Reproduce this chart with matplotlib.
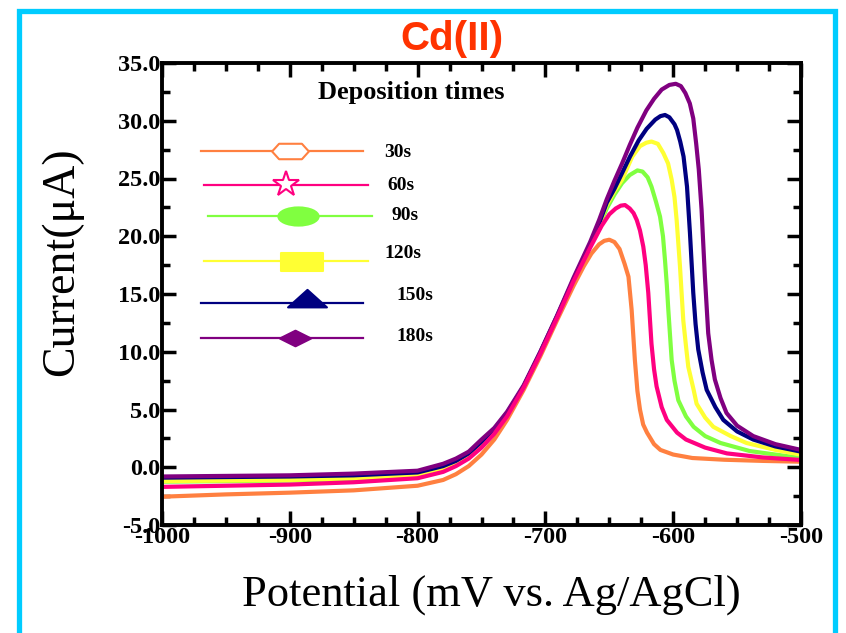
import matplotlib
matplotlib.use("Agg")
import matplotlib.pyplot as plt
import numpy as np
from matplotlib.path import Path
from matplotlib.patches import Rectangle
from matplotlib.ticker import MultipleLocator, FormatStrFormatter

# ---------------- data ----------------
x_30 = [-1000, -950, -900, -850, -800, -780, -770, -760, -750, -740, -730, -717, -704, -691, -678,
        -670, -664, -658, -654, -650, -646, -642, -638, -635, -632.5, -630, -628, -626, -623.5,
        -620.5, -615, -610, -600, -585, -560, -530, -500]
y_30 = [-2.55, -2.35, -2.2, -2.0, -1.6, -1.1, -0.6, 0.1, 1.1, 2.4, 4.1, 6.7, 9.6, 12.7, 15.7,
        17.4, 18.5, 19.3, 19.6, 19.7, 19.5, 18.9, 17.6, 16.5, 13.6, 9.3, 6.6, 5.0, 3.7,
        3.0, 2.0, 1.5, 1.1, 0.8, 0.65, 0.55, 0.48]

x_60 = [-1000, -950, -900, -850, -800, -780, -770, -760, -750, -740, -730, -717, -704, -691, -678,
        -665, -656, -650, -645, -641, -637.7, -634, -631, -628.5, -626, -623.4, -621.5, -619.5,
        -617, -615, -613, -609, -605, -597, -590, -575, -558, -530, -500]
y_60 = [-1.7, -1.6, -1.5, -1.3, -0.95, -0.4, 0.1, 0.75, 1.7, 2.9, 4.4, 6.9, 9.8, 12.9, 16.1,
        19.0, 20.9, 21.9, 22.4, 22.65, 22.7, 22.4, 22.0, 21.4, 20.5, 19.1, 17.5, 15.1,
        10.7, 8.5, 7.0, 5.2, 4.1, 3.0, 2.4, 1.7, 1.2, 0.85, 0.63]

x_90 = [-1000, -950, -900, -850, -800, -780, -770, -760, -750, -740, -730, -717, -704, -691, -678,
        -665, -658, -652, -646, -640, -634, -628, -624, -620, -617, -613.5, -610.3, -608, -606.4,
        -605, -603.8, -601.2, -599, -596, -590, -584, -575, -563, -540, -500]
y_90 = [-1.25, -1.2, -1.15, -1.0, -0.75, -0.2, 0.3, 0.95, 1.9, 3.05, 4.5, 7.0, 9.9, 13.0, 16.2,
        19.2, 20.9, 22.4, 23.6, 24.6, 25.3, 25.7, 25.6, 25.1, 24.3, 23.0, 21.7, 20.0, 17.9,
        15.8, 13.6, 9.3, 7.5, 5.8, 4.4, 3.5, 2.7, 2.1, 1.4, 0.8]

x_120 = [-1000, -950, -900, -850, -800, -780, -770, -760, -750, -740, -730, -717, -704, -691, -678,
         -665, -658, -652, -646, -640, -632, -626, -621, -617, -612, -607.7, -604, -601.2, -599,
         -597.3, -594.7, -592.1, -590, -588.2, -584, -581.7, -575, -568.6, -555, -542.6, -520, -500]
y_120 = [-1.2, -1.15, -1.1, -0.95, -0.72, -0.15, 0.35, 1.0, 1.95, 3.1, 4.55, 7.0, 9.9, 13.0, 16.2,
         19.2, 21.0, 22.7, 23.9, 24.9, 26.9, 27.8, 28.1, 28.2, 28.0, 27.2, 26.3, 24.9, 23.4,
         21.4, 17.4, 12.7, 10.5, 8.7, 6.7, 5.5, 4.3, 3.5, 2.7, 2.1, 1.5, 1.1]

x_150 = [-1000, -950, -900, -850, -800, -780, -770, -760, -750, -740, -730, -717, -704, -691, -678,
         -665, -658, -652, -646, -641.6, -633.8, -627, -620.8, -614, -610, -606.4, -603, -599,
         -597, -594.5, -591.9, -589.2, -586.9, -584.3, -582.5, -580.4, -577, -573.8, -567, -560.8,
         -550, -537.4, -520, -500]
y_150 = [-0.9, -0.85, -0.8, -0.7, -0.45, 0.1, 0.55, 1.2, 2.2, 3.3, 4.7, 7.0, 9.95, 13.05, 16.25,
         19.3, 21.1, 22.9, 24.1, 25.1, 26.9, 28.3, 29.3, 30.1, 30.4, 30.5, 30.3, 29.7,
         29.2, 28.2, 26.9, 24.3, 20.3, 15.1, 12.4, 10.2, 8.2, 6.7, 5.2, 4.1,
         3.1, 2.4, 1.8, 1.35]

x_180 = [-1000, -950, -900, -850, -800, -780, -770, -760, -750, -740, -730, -717, -704, -691, -678,
         -665, -658, -652, -646, -640, -634, -628, -621, -615, -609, -603, -598, -594, -590.5,
         -587, -584.3, -582, -580, -577.8, -575.2, -572.6, -570, -567.4, -563, -558.3, -550,
         -537.4, -520, -500]
y_180 = [-0.8, -0.75, -0.7, -0.55, -0.3, 0.3, 0.75, 1.35, 2.4, 3.4, 4.8, 7.1, 10.0, 13.1, 16.4,
         19.5, 21.4, 23.2, 24.8, 26.3, 27.9, 29.4, 30.9, 31.9, 32.7, 33.1, 33.2, 33.0, 32.4,
         31.5, 30.2, 28.0, 25.8, 22.3, 16.5, 11.6, 9.3, 7.6, 6.0, 4.7, 3.6,
         2.7, 2.0, 1.5]

labels = ["30s", "60s", "90s", "120s", "150s", "180s"]
colors = ["#FF8040", "#FF0080", "#80FF40", "#FFFF33", "#000080", "#800080"]

x_ticks = [-1000, -900, -800, -700, -600, -500]
y_ticks = [-5.0, 0.0, 5.0, 10.0, 15.0, 20.0, 25.0, 30.0, 35.0]

series = {"30s": (x_30, y_30), "60s": (x_60, y_60), "90s": (x_90, y_90),
          "120s": (x_120, y_120), "150s": (x_150, y_150), "180s": (x_180, y_180)}

# ---------------- figure ----------------
W, H = 846, 633
fig = plt.figure(figsize=(W / 100, H / 100), dpi=100)
ax = fig.add_axes([162 / W, 1 - 525 / H, (801 - 162) / W, (525 - 63) / H])

serif = "Liberation Serif"
cmap = dict(zip(labels, colors))
draw_order = ["30s", "90s", "120s", "150s", "180s", "60s"]
for lab in draw_order:
    xs, ys = series[lab]
    ax.plot(xs, ys, color=cmap[lab], lw=3.0, solid_capstyle="round", solid_joinstyle="round")

ax.set_xlim(-1000, -500)
ax.set_ylim(-5, 35)
ax.set_xticks(x_ticks)
ax.set_yticks(y_ticks)
ax.xaxis.set_minor_locator(MultipleLocator(25))
ax.yaxis.set_minor_locator(MultipleLocator(2.5))
ax.yaxis.set_major_formatter(FormatStrFormatter("%.1f"))
ax.xaxis.set_major_formatter(FormatStrFormatter("%d"))
ax.tick_params(which="both", direction="in", top=True, right=True, width=2.5, pad=1.5)
ax.tick_params(which="major", length=10)
ax.tick_params(which="minor", length=6)
for lbl in ax.get_xticklabels() + ax.get_yticklabels():
    lbl.set_fontfamily(serif)
    lbl.set_fontweight("bold")
    lbl.set_fontsize(17.5)
for sp in ax.spines.values():
    sp.set_linewidth(2.8)

# ---------------- custom legend ----------------
def tx(px):
    return (px - 162) / 639

def ty(py):
    return (525 - py) / 462

hexagon = Path([(-1, 0), (-0.62, 0.42), (0.62, 0.42), (1, 0), (0.62, -0.42), (-0.62, -0.42), (-1, 0)],
               [Path.MOVETO] + [Path.LINETO] * 5 + [Path.CLOSEPOLY])
circ = Path.unit_circle()
ellipse = Path(circ.vertices * np.array([1.0, 0.45]), circ.codes)
rect = Path([(-1, -0.43), (1, -0.43), (1, 0.43), (-1, 0.43), (-1, -0.43)],
            [Path.MOVETO] + [Path.LINETO] * 3 + [Path.CLOSEPOLY])
tri = Path([(-1, -0.2), (1, -0.2), (0, 0.7), (-1, -0.2)],
           [Path.MOVETO, Path.LINETO, Path.LINETO, Path.CLOSEPOLY])
diamond = Path([(-1, 0), (0, 0.5), (1, 0), (0, -0.5), (-1, 0)],
               [Path.MOVETO] + [Path.LINETO] * 3 + [Path.CLOSEPOLY])

leg = [
    # line x0, x1, y, marker x, marker y, marker, ms, filled, label x, label y
    (200.7, 363.3, 150.7, 290, 150.7, hexagon, 26.5, False, 384, 152.7),
    (204, 368.3, 185, 286, 183.5, "*", 19, False, 387.3, 185),
    (208.3, 372.3, 216, 298.3, 216, ellipse, 29, True, 391.7, 216),
    (204, 368.3, 261, 302, 261.5, rect, 30, True, 384, 254),
    (200.7, 363.3, 302.7, 306.7, 302.7, tri, 28, True, 396.7, 296),
    (200.7, 363.3, 337.7, 295, 337.7, diamond, 22.5, True, 396.7, 336.7),
]
for (lab, col, (x0, x1, yl, mx, my, mk, ms, filled, lx, ly)) in zip(labels, colors, leg):
    ax.plot([tx(x0), tx(x1)], [ty(yl), ty(yl)], color=col, lw=1.6, transform=ax.transAxes,
            clip_on=False)
    ax.plot([tx(mx)], [ty(my)], marker=mk, ms=ms, color=col,
            markerfacecolor=col if filled else "white", markeredgecolor=col,
            markeredgewidth=1.5, transform=ax.transAxes, clip_on=False)
    ax.text(tx(lx), ty(ly), lab, transform=ax.transAxes, fontfamily=serif, fontweight="bold",
            fontsize=14, ha="left", va="center")

ax.text(tx(318.3), ty(92), "Deposition times", transform=ax.transAxes, fontfamily=serif,
        fontweight="bold", fontsize=19, ha="left", va="center")

# ---------------- labels / title ----------------
fig.text(452 / W, 1 - 50 / H, "Cd(II)", color="#FF3300", fontfamily="Liberation Sans",
         fontweight="bold", fontsize=29, ha="center", va="baseline")
fig.text(62 / W, 1 - 262 / H, "Current(\u03bcA)", rotation=90, fontfamily=serif, fontsize=33,
         ha="center", va="center")
fig.text(491 / W, 1 - 595 / H, "Potential (mV vs. Ag/AgCl)", fontfamily=serif, fontsize=32,
         ha="center", va="center")

# cyan frame
fig.patches.append(Rectangle((19 / W, -0.1), (835 - 19) / W, 1.1 - 11 / H, transform=fig.transFigure,
                             fill=False, edgecolor="#00CCFF", linewidth=3.8, clip_on=False))

fig.savefig("out.png", dpi=100)
